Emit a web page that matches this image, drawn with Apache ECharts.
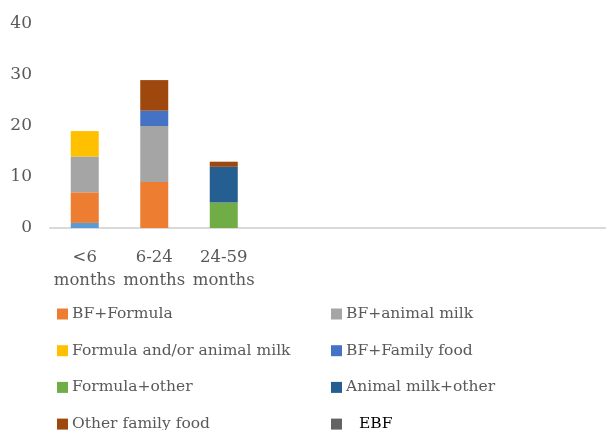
<!DOCTYPE html>
<html><head><meta charset="utf-8">
<script src="https://cdn.jsdelivr.net/npm/echarts@6/dist/echarts.min.js"></script>
<style>html,body{margin:0;padding:0;background:#fff}#c{width:606px;height:430px}</style>
</head><body><div id="c"></div>
<script>
const categories = ['<6\nmonths', '6-24\nmonths', '24-59\nmonths', '', '', '', '', ''];
const yTicks = [0, 10, 20, 30, 40];
const seriesNames = ['Other', 'BF+Formula', 'BF+animal milk', 'Formula and/or animal milk', 'BF+Family food', 'Formula+other', 'Animal milk+other', 'Other family food', 'EBF'];
const seriesColors = ['#5B9BD5', '#ED7D31', '#A5A5A5', '#FFC000', '#4472C4', '#70AD47', '#255E91', '#9E480E', '#636363'];
const otherVals = [1, 0, 0];
const bfFormula = [6, 9, 0];
const bfAnimalMilk = [7, 11, 0];
const formulaAnimal = [5, 0, 0];
const bfFamilyFood = [0, 3, 0];
const formulaOther = [0, 0, 5];
const animalMilkOther = [0, 0, 7];
const otherFamilyFood = [0, 6, 1];
const ebf = [0, 0, 0];
const seriesValues = [otherVals, bfFormula, bfAnimalMilk, formulaAnimal, bfFamilyFood, formulaOther, animalMilkOther, otherFamilyFood, ebf];
const legendLeft = ['BF+Formula', 'Formula and/or animal milk', 'Formula+other', 'Other family food'];
const legendRight = ['BF+animal milk', 'BF+Family food', 'Animal milk+other', 'EBF'];

const font = 'DejaVu Serif';
const chart = echarts.init(document.getElementById('c'));
const legendBase = {
  orient: 'vertical', top: 306, height: 200, padding: 0, itemWidth: 11, itemHeight: 11, itemGap: 20.7,
  icon: 'rect', selectedMode: false,
  textStyle: { fontFamily: font, fontSize: 15.5, color: '#595959', padding: [0, 0, 0, -1] }
};
chart.setOption({
  animation: false,
  grid: { left: 50, top: 24, width: 560, height: 204, containLabel: false },
  legend: [
    Object.assign({}, legendBase, { left: 57, data: legendLeft }),
    Object.assign({}, legendBase, { left: 331, data: legendRight.map(n => n === 'EBF' ? { name: n, textStyle: { color: '#000', padding: [0, 0, 0, 12] } } : n) })
  ],
  xAxis: {
    type: 'category', data: categories,
    axisLine: { lineStyle: { color: '#D9D9D9', width: 2 } },
    axisTick: { show: false },
    axisLabel: { fontFamily: font, fontSize: 16.5, color: '#595959', lineHeight: 23, margin: 18, interval: 0 }
  },
  yAxis: {
    type: 'value', min: yTicks[0], max: yTicks[yTicks.length - 1], interval: 10,
    axisLine: { show: false }, axisTick: { show: false },
    splitLine: { show: false },
    axisLabel: { fontFamily: font, fontSize: 17, color: '#595959', margin: 18 }
  },
  series: seriesNames.map((n, i) => ({
    name: n, type: 'bar', stack: 'total', barWidth: 28,
    itemStyle: { color: seriesColors[i] },
    data: seriesValues[i]
  }))
});
</script></body></html>
